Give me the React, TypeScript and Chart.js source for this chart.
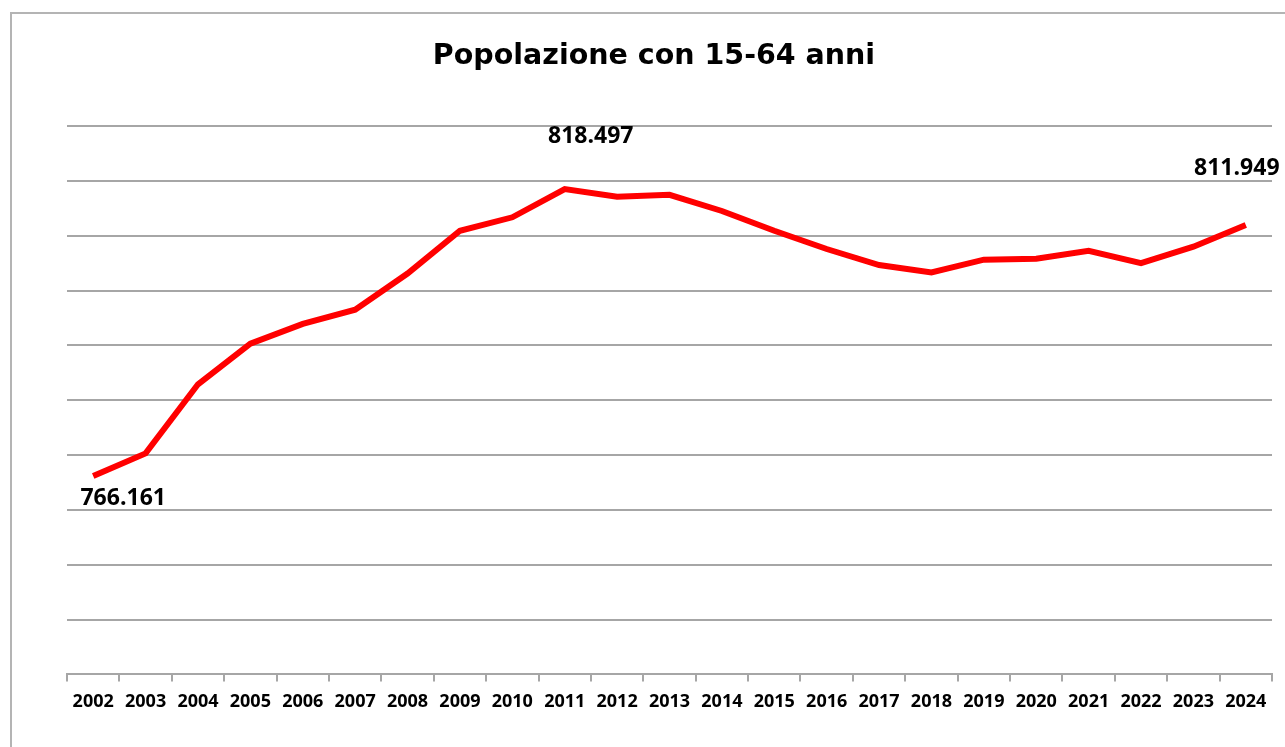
import React, { useEffect, useRef } from "react";
import { Chart, registerables } from "chart.js";

Chart.register(...registerables);

const years = [
  "2002", "2003", "2004", "2005", "2006", "2007", "2008", "2009", "2010", "2011", "2012", "2013",
  "2014", "2015", "2016", "2017", "2018", "2019", "2020", "2021", "2022", "2023", "2024",
];

const population = [
  766161, 770300, 782900, 790300, 793900, 796500, 803100, 810900, 813350, 818497, 817100, 817450,
  814500, 810900, 807570, 804650, 803300, 805620, 805800, 807260, 805000, 808000, 811949,
];

const labelledIndices = [0, 9, 22];
const labelTexts = ["766.161", "818.497", "811.949"];

const chartTitle = "Popolazione con 15-64 anni";

const frameAndTitle = {
  id: "frameAndTitle",
  beforeDraw(chart: any) {
    const ctx = chart.ctx;
    ctx.save();
    ctx.fillStyle = "#ffffff";
    ctx.fillRect(0, 0, chart.width, chart.height);
    ctx.strokeStyle = "#b4b4b4";
    ctx.lineWidth = 2;
    ctx.strokeRect(11, 13, chart.width + 50, chart.height + 50);
    ctx.restore();
  },
  afterDraw(chart: any) {
    const ctx = chart.ctx;
    ctx.save();
    ctx.fillStyle = "#000000";
    ctx.font = "bold 28.5px 'DejaVu Sans'";
    ctx.textAlign = "center";
    ctx.textBaseline = "alphabetic";
    ctx.fillText(chartTitle, 654, 64);
    ctx.restore();
  },
};

const valueLabels = {
  id: "valueLabels",
  afterDatasetsDraw(chart: any) {
    const ctx = chart.ctx;
    const meta = chart.getDatasetMeta(0);
    const offsets = [
      [30, 22],
      [26, -53],
      [-9, -57],
    ];
    ctx.save();
    ctx.fillStyle = "#000000";
    ctx.font = "bold 23px 'Open Sans'";
    ctx.textAlign = "center";
    ctx.textBaseline = "middle";
    labelledIndices.forEach((idx, i) => {
      const pt = meta.data[idx];
      ctx.fillText(labelTexts[i], pt.x + offsets[i][0], pt.y + offsets[i][1]);
    });
    ctx.restore();
  },
};

export default function App() {
  const canvasRef = useRef<HTMLCanvasElement | null>(null);

  useEffect(() => {
    if (!canvasRef.current) return;
    const chart = new Chart(canvasRef.current, {
      type: "line",
      data: {
        labels: years,
        datasets: [
          {
            data: population,
            borderColor: "#ff0000",
            borderWidth: 6,
            pointRadius: 0,
            tension: 0,
            fill: false,
          },
        ],
      },
      options: {
        animation: false,
        responsive: false,
        maintainAspectRatio: false,
        layout: { padding: { left: 67, right: 13, top: 126, bottom: 24 } },
        plugins: {
          legend: { display: false },
          title: { display: false },
          tooltip: { enabled: false },
        },
        scales: {
          x: {
            offset: true,
            grid: {
              offset: true,
              drawOnChartArea: false,
              drawTicks: true,
              tickLength: 7,
              color: "#a6a6a6",
              lineWidth: 2,
            },
            border: { display: true, color: "#a6a6a6", width: 2 },
            ticks: {
              color: "#000000",
              font: { family: "'Open Sans'", weight: "bold", size: 18 },
              padding: 10,
              maxRotation: 0,
              autoSkip: false,
            },
          },
          y: {
            min: 730000,
            max: 830000,
            ticks: { display: false, stepSize: 10000 },
            grid: { color: "#a6a6a6", lineWidth: 2, drawTicks: false },
            border: { display: false },
            afterFit: (scale: any) => {
              scale.width = 0;
            },
          },
        },
      },
      plugins: [frameAndTitle, valueLabels],
    });
    return () => chart.destroy();
  }, []);

  return (
    <div style={{ position: "fixed", left: 0, top: 0, width: 1285, height: 747 }}>
      <canvas ref={canvasRef} width={1285} height={747} style={{ display: "block" }} />
    </div>
  );
}
